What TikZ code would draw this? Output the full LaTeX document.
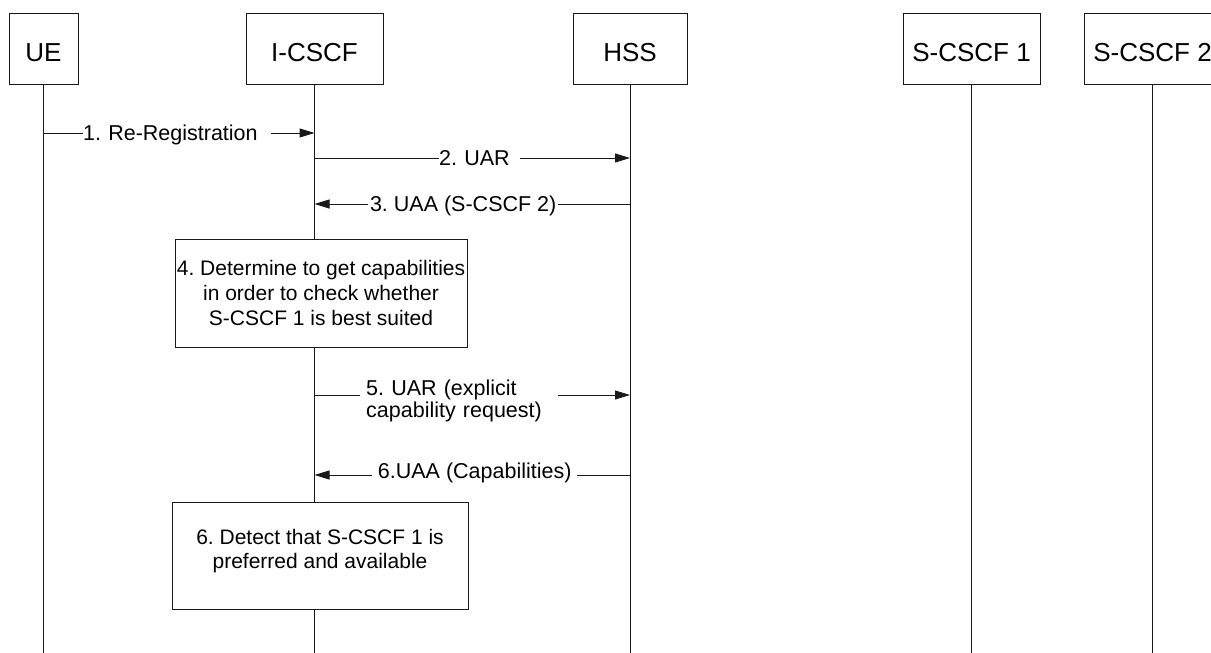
\documentclass[tikz,border=0pt]{standalone}
\usepackage{fontspec}
\setmainfont{Liberation Sans}
\usetikzlibrary{arrows.meta}
\frenchspacing
\begin{document}
\begin{tikzpicture}[x=1pt,y=-1pt,
  head/.style={draw=black!90, line width=1pt, fill=white, minimum height=71pt,
    inner sep=0pt, text height=25pt, text depth=0pt,
    font=\fontsize{26}{30}\selectfont},
  note/.style={draw=black!90, line width=1pt, fill=white, inner sep=0pt},
  notetext/.style={align=center, inner sep=0pt, font=\fontsize{21}{24}\selectfont},
  life/.style={draw=black!90, line width=1pt},
  msg/.style={draw=black!90, line width=1pt, -{Triangle[length=15pt,width=9pt]}},
  lbl/.style={fill=white, anchor=west, inner ysep=1pt, inner xsep=0pt,
    text height=15pt, text depth=0pt, font=\fontsize{21.5}{24}\selectfont},
]
\useasboundingbox (0,0) rectangle (1211,653);
\coordinate (bottom) at (0,653);

% participants
\node[head, minimum width=69pt]  (ue)    at (43.5,48.5)  {UE};
\node[head, minimum width=137pt] (icscf) at (314.5,48.5) {I-CSCF};
\node[head, minimum width=114pt] (hss)   at (630,48.5)   {HSS};
\node[head, minimum width=137pt] (s1)    at (971.5,48.5) {S-CSCF 1};
\node[head, minimum width=137pt] (s2)    at (1152.5,48.5){S-CSCF 2};

% lifelines
\foreach \p in {ue,icscf,hss,s1,s2}
  \draw[life] (\p.south) -- (\p.south |- bottom);

% 1. Re-Registration
\coordinate (m1a) at (ue.south |- 0,133);
\coordinate (m1b) at (icscf.south |- 0,133);
\draw[msg] (m1a) -- (m1b);
\node[lbl, align=left, text width=188pt] (l1) at (83,133) {1. Re-Registration};

% 2. UAR
\coordinate (m2a) at (icscf.south |- 0,158);
\coordinate (m2b) at (hss.south |- 0,158);
\draw[msg] (m2a) -- (m2b);
\node[lbl, align=left, text width=81pt] (l2) at (439,158) {2. UAR};

% 3. UAA
\coordinate (m3a) at (hss.south |- 0,204);
\coordinate (m3b) at (icscf.south |- 0,204);
\draw[msg] (m3a) -- (m3b);
\node[lbl, minimum width=190pt] (l3) at (368,204) {3. UAA (S-CSCF 2)};

% 4. decision box
\node[note, minimum width=292pt, minimum height=108pt] (n4) at (321,293) {};
\node[notetext, font=\fontsize{21}{25}\selectfont] (t4) at (n4.center)
  {4. Determine to get capabilities\\in order to check whether\\S-CSCF 1 is best suited};

% 5. UAR (explicit capability request)
\coordinate (m5a) at (icscf.south |- 0,395);
\coordinate (m5b) at (hss.south |- 0,395);
\draw[msg] (m5a) -- (m5b);
\node[fill=white, anchor=north west, align=left, inner ysep=0pt, inner xsep=6pt,
  text width=186pt, font=\fontsize{21.5}{22}\selectfont] (l5) at (360,380)
  {5. UAR (explicit\\capability request)};

% 6. UAA (Capabilities)
\coordinate (m6a) at (hss.south |- 0,475);
\coordinate (m6b) at (icscf.south |- 0,475);
\draw[msg] (m6a) -- (m6b);
\node[lbl, minimum width=205pt] (l6) at (372,471) {6.UAA (Capabilities)};

% 6. detection box
\node[note, minimum width=296pt, minimum height=107pt] (n6) at (320,555.5) {};
\node[notetext] (t6) at (320,551)
  {6. Detect that S-CSCF 1 is\\preferred and available};
\end{tikzpicture}
\end{document}
